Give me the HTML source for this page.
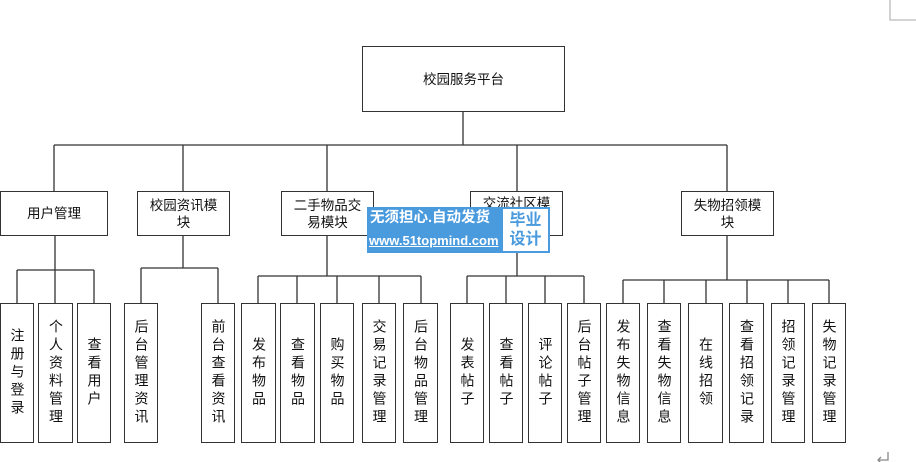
<!DOCTYPE html>
<html><head><meta charset="utf-8"><style>
body{margin:0;width:916px;height:462px;background:#fff;position:relative;overflow:hidden;font-family:"Liberation Sans","Noto Sans CJK SC",sans-serif;color:#111}
.b{position:absolute;border:1.3px solid #333;box-sizing:border-box;background:#fff;display:flex;align-items:center;justify-content:center;text-align:center;font-size:13.5px;line-height:17px}
.v{writing-mode:vertical-rl;text-orientation:upright;letter-spacing:4px;line-height:17px;font-size:14px}
</style></head><body>
<svg width="916" height="462" style="position:absolute;left:0;top:0" stroke="#333" stroke-width="1.3" fill="none">
<path d="M463 112V145M54 145H727M54 145V191M183 145V191M327 145V191M517 145V191M727 145V191"/>
<path d="M55 236V270M17 270H94M17 270V303M55 270V303M94 270V303"/>
<path d="M183 236V268M141 268H218M141 268V303M218 268V303"/>
<path d="M327 236V276M258 276H421M258 276V303M297 276V303M337 276V303M379 276V303M421 276V303"/>
<path d="M517 236V276M467 276H584M467 276V303M506 276V303M545 276V303M584 276V303"/>
<path d="M727 236V280M623 280H829M623 280V303M664 280V303M706 280V303M747 280V303M788 280V303M829 280V303"/>
<path d="M890 0V20H916" stroke="#bbb"/>
<path d="M888 452V460H878M881 457L878 460L881 463" stroke="#888"/>
</svg>
<div class="b" style="left:362px;top:46px;width:203px;height:66px">校园服务平台</div>
<div class="b" style="left:0;top:191px;width:108px;height:45px">用户管理</div>
<div class="b" style="left:137px;top:191px;width:93px;height:45px">校园资讯模<br>块</div>
<div class="b" style="left:281px;top:191px;width:93px;height:45px">二手物品交<br>易模块</div>
<div class="b" style="left:470px;top:191px;width:93px;height:45px;align-items:flex-start;padding-top:3px">交流社区模</div>
<div class="b" style="left:681px;top:191px;width:93px;height:45px">失物招领模<br>块</div>

<div class="b" style="left:0;top:303px;width:34px;height:140px"><span class="v">注册与登录</span></div>
<div class="b" style="left:38px;top:303px;width:35px;height:140px"><span class="v">个人资料管理</span></div>
<div class="b" style="left:77px;top:303px;width:34px;height:140px"><span class="v">查看用户</span></div>
<div class="b" style="left:124px;top:303px;width:34px;height:140px"><span class="v">后台管理资讯</span></div>
<div class="b" style="left:201px;top:303px;width:34px;height:140px"><span class="v">前台查看资讯</span></div>
<div class="b" style="left:241px;top:303px;width:35px;height:140px"><span class="v">发布物品</span></div>
<div class="b" style="left:280px;top:303px;width:35px;height:140px"><span class="v">查看物品</span></div>
<div class="b" style="left:320px;top:303px;width:34px;height:140px"><span class="v">购买物品</span></div>
<div class="b" style="left:362px;top:303px;width:34px;height:140px"><span class="v">交易记录管理</span></div>
<div class="b" style="left:403px;top:303px;width:35px;height:140px"><span class="v">后台物品管理</span></div>
<div class="b" style="left:450px;top:303px;width:34px;height:140px"><span class="v">发表帖子</span></div>
<div class="b" style="left:489px;top:303px;width:34px;height:140px"><span class="v">查看帖子</span></div>
<div class="b" style="left:528px;top:303px;width:34px;height:140px"><span class="v">评论帖子</span></div>
<div class="b" style="left:567px;top:303px;width:34px;height:140px"><span class="v">后台帖子管理</span></div>
<div class="b" style="left:606px;top:303px;width:34px;height:140px"><span class="v">发布失物信息</span></div>
<div class="b" style="left:647px;top:303px;width:34px;height:140px"><span class="v">查看失物信息</span></div>
<div class="b" style="left:688px;top:303px;width:35px;height:140px"><span class="v">在线招领</span></div>
<div class="b" style="left:729px;top:303px;width:35px;height:140px"><span class="v">查看招领记录</span></div>
<div class="b" style="left:771px;top:303px;width:34px;height:140px"><span class="v">招领记录管理</span></div>
<div class="b" style="left:812px;top:303px;width:34px;height:140px"><span class="v">失物记录管理</span></div>

<div style="position:absolute;left:367px;top:207px;width:183px;height:46px;background:#4a9ade"></div>
<div style="position:absolute;left:370px;top:209px;width:132px;color:#fff;font-size:14.5px;font-weight:bold;line-height:19px">无须担心.自动发货</div>
<div style="position:absolute;left:369px;top:233px;width:134px;color:#fff;font-size:13px;font-weight:bold;text-decoration:underline">www.51topmind.com</div>
<div style="position:absolute;left:503px;top:209px;width:45px;height:42px;background:#fff;color:#4a9ade;font-size:16px;font-weight:bold;line-height:19px;text-align:center;padding-top:2px;box-sizing:border-box">毕业<br>设计</div>
</body></html>
